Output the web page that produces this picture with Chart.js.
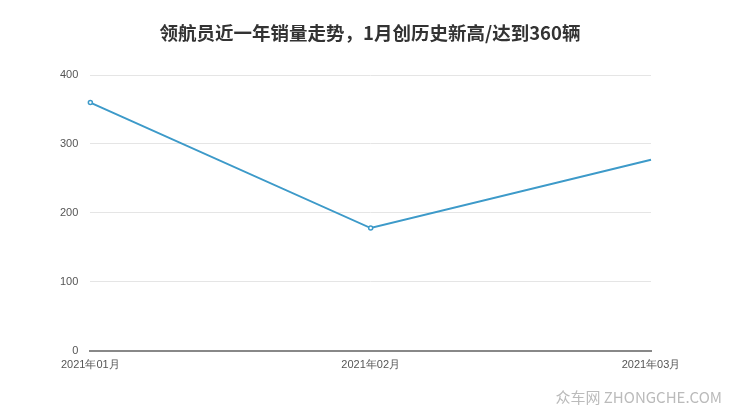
<!DOCTYPE html><html><head><meta charset="utf-8">
<script src="https://cdn.jsdelivr.net/npm/chart.js@4"></script>
<style>html,body{margin:0;padding:0;background:#fff}#w{position:relative;width:740px;height:417px}
#wm{position:absolute;right:18px;bottom:10px;font:15px "Noto Sans CJK SC",sans-serif;color:#bbb}
#t{position:absolute;left:0;right:0;top:19px;text-align:center;font:bold 18.5px "Noto Sans CJK SC",sans-serif;color:#333}</style>
</head><body><div id="w"><canvas id="c" width="740" height="417"></canvas><div id="t">领航员近一年销量走势，1月创历史新高/达到360辆</div><div id="wm">众车网 ZHONGCHE.COM</div></div>
<script>
const categories=["2021年01月","2021年02月","2021年03月"];
const sales=[360,178,277];
const yTicks=[0,100,200,300,400];
new Chart(document.getElementById('c'),{type:'line',
data:{labels:categories,datasets:[{data:sales,borderColor:'#3d9ac9',borderWidth:2,pointRadius:[2,2,0],pointBackgroundColor:'#fff',pointBorderColor:'#3d9ac9',pointBorderWidth:1.5,tension:0}]},
options:{responsive:false,animation:false,
layout:{padding:{left:48,right:89,top:75,bottom:42}},
plugins:{legend:{display:false},tooltip:{enabled:false},title:{display:false}},
scales:{x:{offset:false,grid:{display:false,drawTicks:true,tickLength:5},border:{color:'#888',width:2},ticks:{color:'#555',font:{size:11},maxRotation:0}},
y:{min:0,max:400,afterBuildTicks:a=>{a.ticks=yTicks.map(v=>({value:v}))},grid:{color:'#e5e5e5',drawTicks:false},border:{display:false},ticks:{color:'#555',font:{size:11},padding:12}}}}});
</script></body></html>
